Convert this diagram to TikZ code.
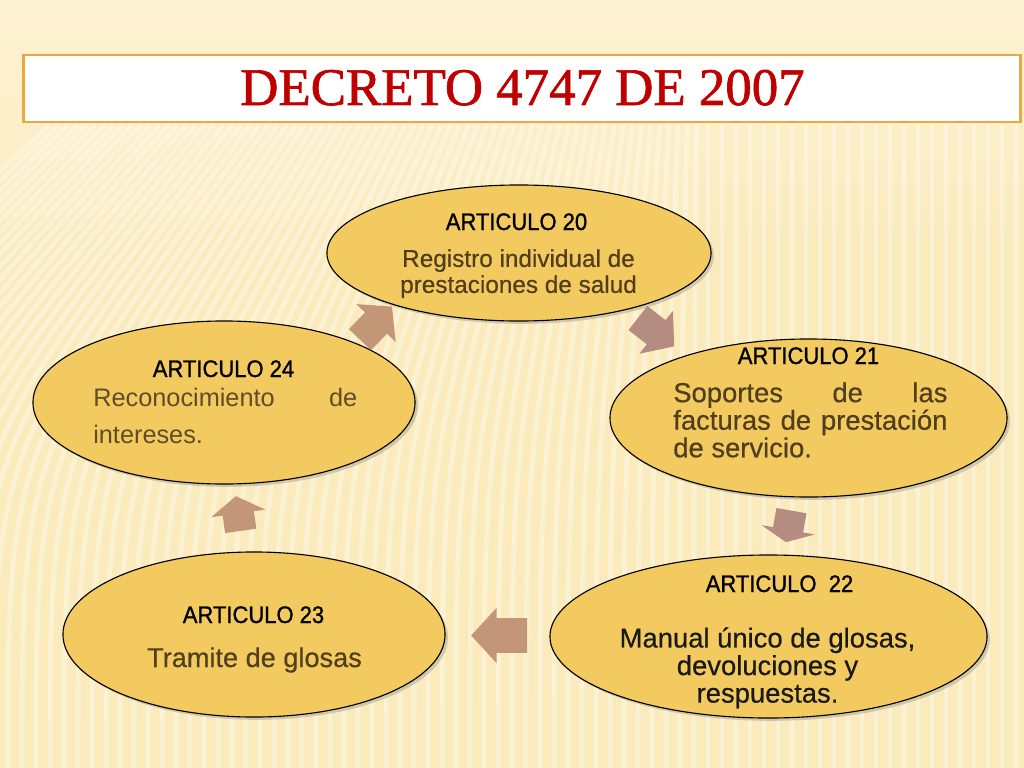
\documentclass[tikz,border=0pt]{standalone}
\usepackage{fontspec}
\setmainfont{Liberation Sans}
\newfontfamily\titlefont[FakeBold=1.2]{Liberation Serif}
\newfontfamily\headfont[FakeStretch=0.92,FakeBold=1]{Liberation Sans}
\newfontfamily\bodyfont[FakeBold=0.5]{Liberation Sans}
\usepackage{tikz}
\usetikzlibrary{calc,shapes.geometric,shapes.arrows,shadows}
\definecolor{paper}{RGB}{250,234,188}
\definecolor{paperlight}{RGB}{254,243,212}
\definecolor{titlered}{RGB}{192,0,0}
\definecolor{titleframe}{RGB}{236,168,64}
\definecolor{ovalgold}{RGB}{242,202,96}
\definecolor{arrowtan}{RGB}{194,150,118}
\definecolor{arrowrose}{RGB}{181,140,130}
\definecolor{bodybrown}{RGB}{80,62,28}
\definecolor{bodylight}{RGB}{96,76,40}

\begin{document}
\begin{tikzpicture}[x=0.025cm, y=-0.025cm,
  cycleoval/.style={ellipse, draw=black, line width=0.8pt, fill=ovalgold, inner sep=0pt,
    drop shadow={shadow xshift=2pt, shadow yshift=-2pt, opacity=0.35}},
  articulo/.style={anchor=base, inner sep=0pt, font=\headfont\fontsize{17}{20}\selectfont},
  ovaltext/.style={inner sep=0pt, text=bodybrown,
    execute at begin node={\tolerance=10000\hyphenpenalty=10000}},
  cyclearrow/.style={single arrow, draw=none, inner xsep=0pt}]
  \useasboundingbox (0,0) rectangle (1024,768);
  \shade[top color=paperlight, bottom color=paper] (0,0) rectangle (1024,260);
  \fill[paper] (0,259) rectangle (1024,768);
  \begin{scope}
    \clip (0,125) rectangle (1024,768);
    \foreach \xb in {-300,-286,...,1040} {
      \pgfmathsetmacro\tilt{max(0,0.35*(700-\xb))}
      \draw[white, opacity=0.35, line width=3.5pt] (\xb,768) .. controls (\xb,450) .. (\xb+\tilt,125);
    }
  \end{scope}

  \node[draw=titleframe, line width=2pt, fill=white, minimum width=24.9cm, minimum height=1.675cm, inner sep=0pt] (titlebox) at (522,88.5) {};
  \node[anchor=base, inner sep=0pt, text=titlered, font=\titlefont\fontsize{37.6}{40}\selectfont] (title) at (522.5,105) {DECRETO 4747 DE 2007};

  \node[cycleoval, minimum width=9.6cm, minimum height=3.4cm] (e20) at (519,253) {};
  \node[cycleoval, minimum width=9.925cm, minimum height=3.95cm] (e21) at (808.5,418) {};
  \node[cycleoval, minimum width=10.925cm, minimum height=4.075cm] (e22) at (768.5,636.5) {};
  \node[cycleoval, minimum width=9.55cm, minimum height=4.125cm] (e23) at (254,634.5) {};
  \node[cycleoval, minimum width=9.55cm, minimum height=4.075cm] (e24) at (224,402.5) {};

  \node[articulo] (h20) at (516.5,230) {ARTICULO 20};
  \node[ovaltext, anchor=north, align=center, font=\bodyfont\fontsize{17.3}{18.5}\selectfont] (b20) at (518.5,249) {Registro individual de\\prestaciones de salud};
  \node[articulo] (h21) at (808.5,364) {ARTICULO 21};
  \node[ovaltext, anchor=north west, text width=195pt, align=justify, font=\bodyfont\fontsize{19.5}{19.6}\selectfont] (b21) at (673,382) {Soportes de las facturas de prestación de servicio.};
  \node[articulo] (h22) at (779.5,592) {ARTICULO~~22};
  \node[ovaltext, text=black!90, anchor=north, align=center, font=\bodyfont\fontsize{19.5}{19.6}\selectfont] (b22) at (767.5,627) {Manual único de glosas,\\devoluciones y\\respuestas.};
  \node[articulo] (h23) at (253.5,623) {ARTICULO 23};
  \node[ovaltext, anchor=base, font=\bodyfont\fontsize{19.3}{22}\selectfont] (b23) at (254.5,667) {Tramite de glosas};
  \node[articulo] (h24) at (223.5,377) {ARTICULO 24};
  \node[ovaltext, text=bodylight, anchor=north west, text width=187.8pt, align=justify, font=\fontsize{18}{26.3}\selectfont] (b24) at (93,387.5) {Reconocimiento de intereses.};

  \node[cyclearrow, fill=arrowtan, rotate=46, minimum height=1.15cm, inner ysep=0.375cm, single arrow head extend=0.3cm, single arrow tip angle=100] (a2420) at ($(e24.center)!0.5!(e20.center)$) {};
  \node[cyclearrow, fill=arrowrose, rotate=-38, minimum height=1.15cm, inner ysep=0.375cm, single arrow head extend=0.3cm, single arrow tip angle=100] (a2021) at ($(e20.center)!0.456!(e21.center)$) {};
  \node[cyclearrow, fill=arrowrose, rotate=-100, minimum height=0.8cm, inner ysep=0.375cm, single arrow head extend=0.29cm, single arrow tip angle=130] (a2122) at ($(e21.center)!0.48!(e22.center)$) {};
  \node[cyclearrow, fill=arrowtan, rotate=180, minimum height=1.4cm, inner ysep=0.425cm, single arrow head extend=0.2625cm, single arrow tip angle=95] (a2223) at ($(e22.center)!0.508!(e23.center)$) {};
  \node[cyclearrow, fill=arrowtan, rotate=98, minimum height=0.875cm, inner ysep=0.3875cm, single arrow head extend=0.2875cm, single arrow tip angle=115] (a2324) at ($(e23.center)!0.5!(e24.center)$) {};
\end{tikzpicture}
\end{document}
